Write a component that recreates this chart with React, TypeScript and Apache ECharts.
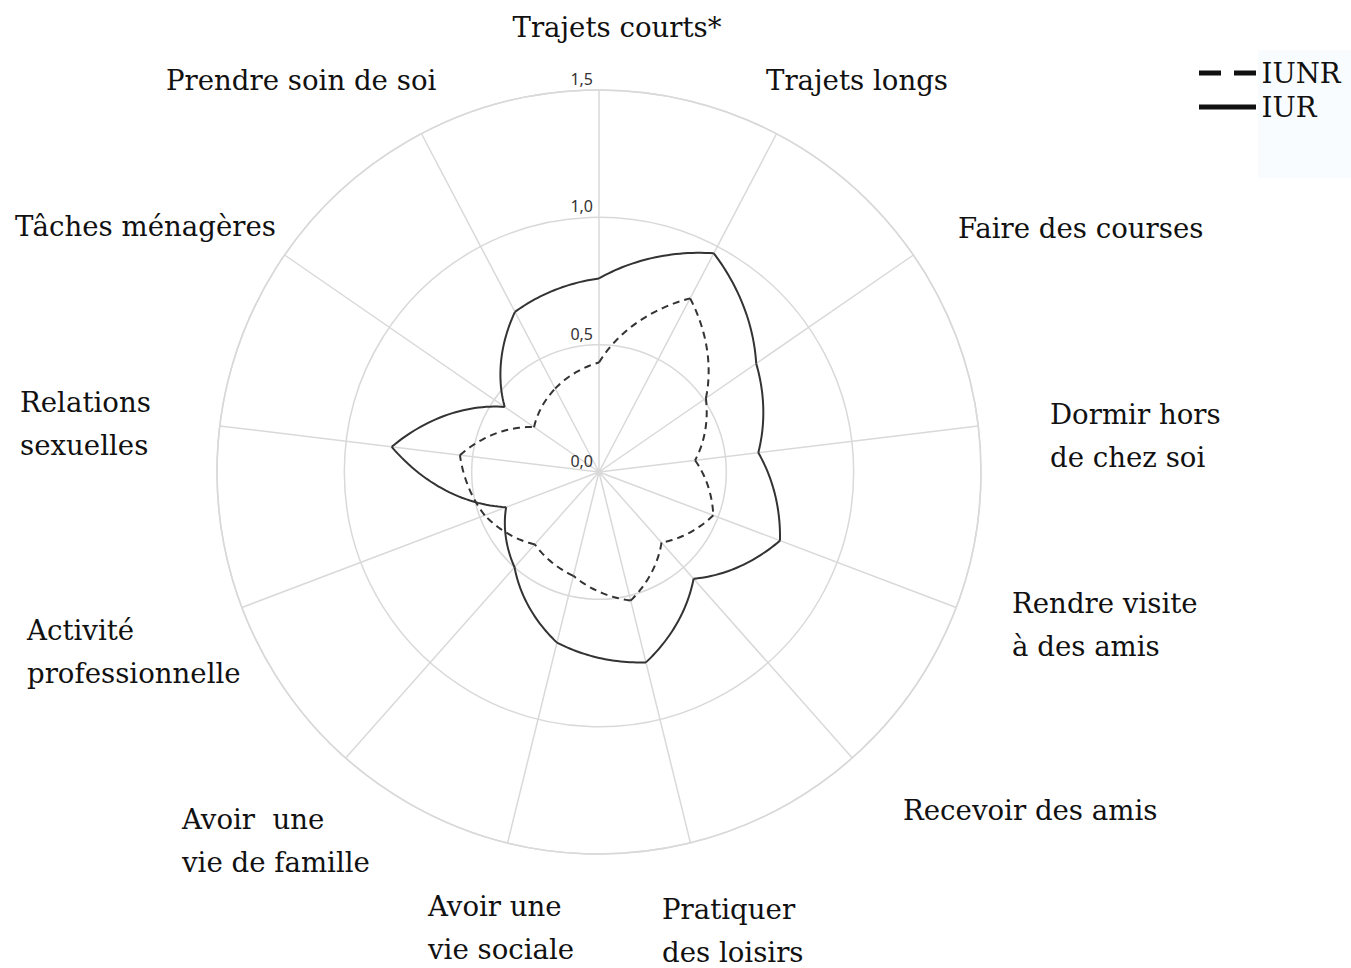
import React, { useEffect, useRef } from "react";
import * as echarts from "echarts";

// ---- data ----
const CATEGORIES = [
  "Trajets courts*",
  "Trajets longs",
  "Faire des courses",
  "Dormir hors\nde chez soi",
  "Rendre visite\nà des amis",
  "Recevoir des amis",
  "Pratiquer\ndes loisirs",
  "Avoir une\nvie sociale",
  "Avoir  une\nvie de famille",
  "Activité\nprofessionnelle",
  "Relations\nsexuelles",
  "Tâches ménagères",
  "Prendre soin de soi",
];
const IUNR = [0.43, 0.77, 0.51, 0.38, 0.48, 0.37, 0.52, 0.42, 0.38, 0.48, 0.55, 0.31, 0.37];
const IUR = [0.76, 0.97, 0.75, 0.63, 0.76, 0.56, 0.77, 0.69, 0.5, 0.39, 0.82, 0.45, 0.71];
const TICK_VALUES = [0, 0.5, 1.0, 1.5];
const TICK_LABELS = ["0,0", "0,5", "1,0", "1,5"];
const SERIES_NAMES = ["IUNR", "IUR"];

// ---- layout (label placement, not data) ----
const LABEL_POS: [number, number, string][] = [
  [617, 27, "center"],
  [766, 80, "left"],
  [958, 228, "left"],
  [1050, 436, "left"],
  [1012, 625, "left"],
  [903, 810, "left"],
  [662, 931, "left"],
  [428, 928, "left"],
  [182, 841, "left"],
  [27, 652, "left"],
  [20, 424, "left"],
  [15, 226, "left"],
  [166, 80, "left"],
];
const LINE_GAP = 43;

const GRID = "#d9d9d9";
const INK = "#333333";
const SERIF = "DejaVu Serif";
const FONT_SIZE = 27.6;

function makeRender(dash: number[] | null) {
  return (params: any, api: any) => {
    const i = params.dataIndexInside;
    const n = params.dataInsideLength;
    const j = (i + 1) % n;
    const r0 = api.value(0, i);
    const r1 = api.value(0, j);
    const a0 = api.value(1, i);
    const pts: number[][] = [];
    const steps = 30;
    for (let s = 0; s <= steps; s++) {
      const t = s / steps;
      pts.push(api.coord([r0 + (r1 - r0) * t, a0 + t]));
    }
    return {
      type: "polyline",
      shape: { points: pts },
      style: {
        stroke: INK,
        lineWidth: 2,
        fill: "none",
        lineDash: dash || undefined,
      },
    };
  };
}

export default function App() {
  const ref = useRef<HTMLDivElement>(null);
  useEffect(() => {
    if (!ref.current) return;
    const chart = echarts.init(ref.current, undefined, { renderer: "svg" });
    const n = CATEGORIES.length;
    const labelGraphics: any[] = [];
    CATEGORIES.forEach((c, k) => {
      const lines = c.split("\n");
      lines.forEach((ln, li) => {
        labelGraphics.push({
          type: "text",
          x: LABEL_POS[k][0],
          y: LABEL_POS[k][1] + (li - (lines.length - 1) / 2) * LINE_GAP,
          silent: true,
          style: {
            text: ln,
            fontFamily: SERIF,
            fontSize: FONT_SIZE,
            fill: "#111",
            align: LABEL_POS[k][2],
            verticalAlign: "middle",
          },
        });
      });
    });
    chart.setOption({
      animation: false,
      backgroundColor: "#ffffff",
      polar: { center: [599, 472], radius: 382 },
      angleAxis: {
        type: "value",
        min: 0,
        max: n,
        interval: 1,
        startAngle: 90,
        clockwise: true,
        axisLine: { show: true, lineStyle: { color: GRID, width: 1.5 } },
        axisTick: { show: false },
        axisLabel: { show: false },
        splitLine: { show: true, lineStyle: { color: GRID, width: 1.5 } },
      },
      radiusAxis: {
        type: "value",
        min: 0,
        max: 1.5,
        interval: 0.5,
        axisLine: { show: false },
        axisTick: { show: false },
        splitLine: { show: true, lineStyle: { color: GRID, width: 1.5 } },
        axisLabel: {
          show: true,
          margin: 6,
          align: "right",
          verticalAlign: "bottom",
          padding: [0, 0, 3, 0],
          fontFamily: "Noto Sans",
          fontSize: 16,
          color: "#333",
          formatter: (v: number) => {
            const idx = TICK_VALUES.findIndex((t) => Math.abs(t - v) < 1e-9);
            return idx >= 0 ? TICK_LABELS[idx] : "";
          },
        },
      },
      legend: {
        orient: "vertical",
        left: 1194,
        top: 54,
        itemWidth: 58,
        itemHeight: 5,
        itemGap: 6,
        data: [
          { name: SERIES_NAMES[0], icon: "path://M0,0H22V5H0Z M35,0H57V5H35Z", itemStyle: { color: "#111" } },
          { name: SERIES_NAMES[1], icon: "path://M0,0H57V5H0Z", itemStyle: { color: "#111" } },
        ],
        textStyle: { fontFamily: SERIF, fontSize: FONT_SIZE, color: "#111" },
        selectedMode: false,
      },
      graphic: [
        {
          type: "rect",
          z: -10,
          silent: true,
          shape: { x: 1258, y: 50, width: 93, height: 128 },
          style: { fill: "#f9fcff" },
        },
        ...labelGraphics,
      ],
      series: [
        {
          name: SERIES_NAMES[0],
          type: "custom",
          coordinateSystem: "polar",
          data: IUNR.map((v, i) => [v, i]),
          encode: { radius: 0, angle: 1 },
          itemStyle: { color: "#111" },
          renderItem: makeRender([7, 5]),
          z: 3,
        },
        {
          name: SERIES_NAMES[1],
          type: "custom",
          coordinateSystem: "polar",
          data: IUR.map((v, i) => [v, i]),
          encode: { radius: 0, angle: 1 },
          itemStyle: { color: "#111" },
          renderItem: makeRender(null),
          z: 3,
        },
      ],
    });
    return () => chart.dispose();
  }, []);
  return (
    <div
      ref={ref}
      style={{ position: "fixed", left: 0, top: 0, width: 1351, height: 968, background: "#fff" }}
    />
  );
}
